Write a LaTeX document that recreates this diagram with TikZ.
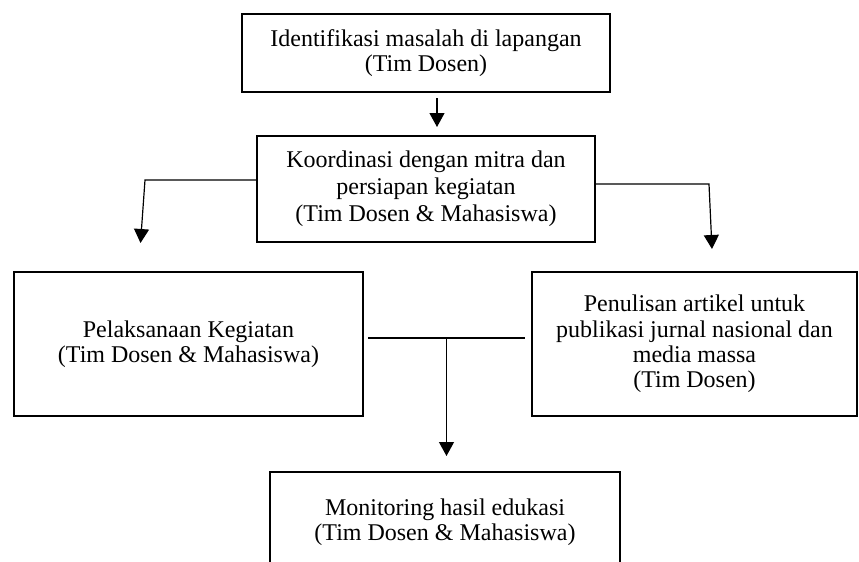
\documentclass[tikz,border=0pt]{standalone}
\usepackage{fontspec}
\setmainfont{Liberation Serif}
\usetikzlibrary{positioning, arrows.meta}

\begin{document}
\begin{tikzpicture}[x=0.5pt, y=-0.5pt
    , kotak/.style={draw, line width=1pt, align=center, inner sep=2pt,
        font=\fontsize{12}{12.6}\selectfont}
    , garis/.style={line width=0.6pt}
    , panah/.style={garis, -{Triangle[length=7pt, width=7.5pt]}}
    ]

    \useasboundingbox (0,0) rectangle (859,562);
    \clip (0,0) rectangle (859,562);

    \node[kotak, minimum width=184pt, minimum height=39pt] (ident) at (426,53)
        {Identifikasi masalah di lapangan\\(Tim Dosen)};
    \node[kotak, minimum width=169pt, minimum height=53pt, below=21pt of ident,
        font=\fontsize{12}{13.5}\selectfont] (koord)
        {Koordinasi dengan mitra dan\\persiapan kegiatan\\(Tim Dosen \& Mahasiswa)};
    \node[kotak, minimum width=174.5pt, minimum height=72pt, below=14pt of koord,
        xshift=-118.75pt] (pelaks)
        {Pelaksanaan Kegiatan\\(Tim Dosen \& Mahasiswa)};
    \node[kotak, minimum width=162.5pt, minimum height=72pt, below=14pt of koord,
        xshift=134.25pt] (penulis)
        {Penulisan artikel untuk\\publikasi jurnal nasional dan\\media massa\\(Tim Dosen)};
    \node[kotak, minimum width=175pt, minimum height=50pt, below=27pt of pelaks,
        xshift=128.25pt] (monitor)
        {Monitoring hasil edukasi\\(Tim Dosen \& Mahasiswa)};

    \draw[panah, shorten <=2.5pt, shorten >=4pt] ([xshift=5.5pt]ident.south)
        -- ([xshift=5.5pt]koord.north);

    % branches from the coordination box
    \coordinate[above left=4.5pt and 55.5pt of koord.west] (tekukkiri);
    \coordinate[above left=14pt and 24pt of pelaks.north] (ujungkiri);
    \draw[panah] ([yshift=4.5pt]koord.west) -- (tekukkiri) -- (ujungkiri);

    \coordinate[above right=2.5pt and 56.5pt of koord.east] (tekukkanan);
    \coordinate[above right=11pt and 8.75pt of penulis.north] (ujungkanan);
    \draw[panah] ([yshift=2.5pt]koord.east) -- (tekukkanan) -- (ujungkanan);

    \draw[garis] ([xshift=2pt, yshift=3pt]pelaks.east)
        -- coordinate[midway] (cabang) ([xshift=-3pt, yshift=3pt]penulis.west);

    \coordinate[above=7.5pt of monitor.north] (ujungbawah);
    \draw[panah] (cabang) -- (cabang |- ujungbawah);

\end{tikzpicture}
\end{document}
